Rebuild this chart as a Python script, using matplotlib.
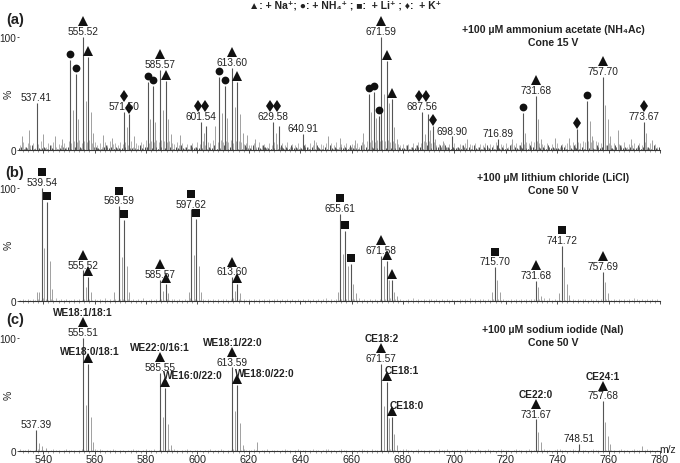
import numpy as np
import matplotlib
matplotlib.use("Agg")
import matplotlib.pyplot as plt
from matplotlib.transforms import offset_copy

plt.rcParams['font.family'] = ['Liberation Sans', 'DejaVu Sans']

# ---- panel (a): +100 uM ammonium acetate, cone 15 V ----
a_mz = [537.41, 550.6, 552.6, 555.52, 557.5, 571.50, 573.5, 580.6, 582.6, 585.57, 587.6,
        601.54, 603.5, 608.6, 610.6, 613.60, 615.6, 629.58, 631.6, 640.91,
        666.6, 668.6, 670.6, 671.59, 673.6, 675.6, 687.56, 689.6, 691.6, 698.90, 716.89,
        726.6, 731.68, 747.6, 751.6, 757.70, 773.67]
a_int = [42, 80, 67, 100, 82, 34, 32, 60, 57, 71, 61,
         25, 21, 65, 57, 73, 60, 25, 21, 14,
         50, 51, 30, 100, 79, 45, 34, 32, 21, 12, 10,
         33, 48, 19, 43, 65, 25]
a_mark = ['', 'c', 'c', 't', 't', 'd', 'd', 'c', 'c', 't', 't',
          'dd', '', 'c', 'c', 't', 't', 'dd', '', '',
          'c', 'c', 'c', 't', 't', 't', 'dd', '', 'd', '', '',
          'c', 't', 'd', 'c', 't', 'd']
a_lab = ['537.41', '', '', '555.52', '', '571.50', '', '', '', '585.57', '',
         '601.54', '', '', '', '613.60', '', '629.58', '', '640.91',
         '', '', '', '671.59', '', '', '687.56', '', '', '698.90', '716.89',
         '', '731.68', '', '', '757.70', '773.67']
a_iso_mz = [531.7, 534.5, 540.0, 544.6, 547.3, 551.6, 553.6, 556.5, 558.5, 559.5, 563.3,
            566.8, 572.5, 575.5, 581.6, 583.6, 586.6, 588.6, 589.6, 593.3, 602.5, 606.8,
            609.6, 611.6, 614.6, 616.6, 617.6, 619.3, 622.5, 630.6, 645.5, 650.7, 655.5,
            661.4, 664.6, 667.6, 669.6, 672.6, 674.6, 676.6, 677.6, 688.5, 690.5, 692.6,
            695.6, 705.0, 722.5, 727.6, 732.7, 733.7, 739.2, 744.4, 752.6, 753.5, 758.7,
            759.7, 760.7, 763.7, 768.9, 774.7, 777.0]
a_iso_int = [12, 18, 14, 12, 10, 35, 27, 43, 34, 15, 13,
             11, 20, 12, 27, 25, 35, 27, 14, 13, 15, 21,
             33, 28, 38, 32, 15, 13, 10, 15, 9, 12, 11,
             9, 15, 34, 28, 50, 42, 20, 10, 14, 18, 10,
             8, 10, 10, 15, 27, 10, 11, 11, 26, 12, 40,
             27, 12, 18, 10, 15, 9]
# low-level noise, one value (in %) per m/z unit from 531
a_grass = ("4736462585" "3647354638" "6879687967" "4637485647" "5748364759"
           "6879798786" "5746354637" "5847698797" "8796887564" "4637453647"
           "5364735463" "4536473546" "3647354635" "4637587979" "8989786545"
           "4536476878" "6745463546" "3546354635" "4635473546" "3546475768"
           "7865463546" "3546475768" "7879876546" "4635473546" "364736453")
a_fuzz = ("2313241322" "3142312423" "2431324214" "3213423132" "2413231423"
          "3324143243" "1324231423" "2341324132" "4231423143" "2413243213"
          "3142314231" "2431324213" "1423142314" "2314231423" "3142423132"
          "2413243214" "3243424313" "2314231423" "1342314231" "2413242314"
          "3142314232" "2431324213" "1423142314" "3243423132" "2413231423")

# ---- panel (b): +100 uM LiCl, cone 50 V ----
b_mz = [539.54, 541.5, 555.52, 557.5, 569.59, 571.5, 585.57, 587.6, 597.62, 599.6,
        613.60, 615.6, 655.61, 657.6, 659.6, 671.58, 673.6, 675.6, 715.70, 731.68,
        741.72, 757.69]
b_int = [100, 88, 27, 21, 84, 72, 19, 15, 81, 73,
         21, 15, 77, 62, 33, 40, 35, 19, 30, 18,
         49, 26]
b_mark = ['s', 's', 't', 't', 's', 's', 't', 't', 's', 's',
          't', 't', 's', 's', 's', 't', 't', 't', 's', 't',
          's', 't']
b_lab = ['539.54', '', '555.52', '', '569.59', '', '585.57', '', '597.62', '',
         '613.60', '', '655.61', '', '', '671.58', '', '', '715.70', '731.68',
         '741.72', '757.69']
b_iso_mz = [537.5, 538.5, 540.5, 542.5, 543.5, 556.5, 558.5, 567.5, 570.5, 572.5, 573.5,
            586.6, 588.6, 596.6, 598.6, 600.6, 601.6, 614.6, 616.6, 654.6, 656.6, 658.6,
            660.6, 661.6, 672.6, 674.6, 676.6, 677.6, 714.7, 716.7, 717.7, 732.7, 733.7,
            740.7, 742.7, 743.7, 744.7, 758.7, 759.7]
b_iso_int = [8, 8, 47, 35, 11, 12, 8, 8, 39, 31, 8,
             9, 7, 8, 41, 31, 8, 9, 7, 8, 42, 31,
             15, 7, 31, 19, 8, 4, 8, 19, 8, 12, 4,
             7, 30, 15, 5, 17, 7]
b_grass = ("1212121213" "2121312121" "1212121212" "1213121212" "2121212131"
           "1212121212" "2121213121" "1212121212" "2123121212" "1212121212"
           "2121212121" "2121212123" "1212121212" "2131212121" "2121312121"
           "1213121212" "2121212121" "1212131212" "2121212121" "1212121212"
           "2121313121" "1212121212" "2121212121" "1212121213" "212121212")

# ---- panel (c): +100 uM NaI, cone 50 V ----
c_mz = [537.39, 555.51, 557.5, 585.55, 587.5, 613.59, 615.6, 671.57, 673.6, 675.6,
        731.67, 748.51, 757.68]
c_int = [19, 100, 77, 69, 56, 74, 58, 77, 61, 30, 28, 6, 44]
c_mark = ['', 't', 't', 't', 't', 't', 't', 't', 't', 't', 't', '', 't']
c_lab = ['537.39', '555.51', '', '585.55', '', '613.59', '', '671.57', '', '',
         '731.67', '748.51', '757.68']
c_name = ['', 'WE18:1/18:1', 'WE18:0/18:1', 'WE22:0/16:1', 'WE16:0/22:0',
          'WE18:1/22:0', 'WE18:0/22:0', 'CE18:2', 'CE18:1', 'CE18:0',
          'CE22:0', '', 'CE24:1']
c_iso_mz = [530.3, 538.4, 539.4, 541.0, 556.5, 558.5, 559.5, 586.6, 588.6, 589.6,
            614.6, 616.6, 617.6, 623.2, 672.6, 674.6, 676.6, 677.6, 732.7, 733.7,
            758.7, 759.7, 760.7, 773.0]
c_iso_int = [5, 7, 4, 3, 41, 30, 8, 30, 24, 5,
             35, 25, 5, 8, 40, 29, 15, 5, 17, 8,
             26, 13, 6, 4]
c_grass = ("2112101211" "1012110121" "1101211012" "1210112101" "1011211012"
           "1120110121" "2101121011" "1011201121" "0112101211" "1210112011"
           "1012110121" "1101211012" "2110121101" "1012110211" "1101211012"
           "2110121101" "1012112011" "1101211021" "0121101211" "1012110121"
           "1101211012" "2110121101" "1012110211" "1101211012" "110121101")

W, H = 680, 464
fig = plt.figure(figsize=(W / 100, H / 100), dpi=100)


def fx(x):
    return x / W


def fy(y):
    return 1 - y / H


TXT = '#222222'
MARKERS = {'t': ('^', 6.6), 'c': ('o', 5.6), 's': ('s', 5.2), 'd': ('d', 6.2)}


def draw(ax, mz, inten, marks, labs, iso_mz, iso_int, grass, fuzz=None, names=None):
    gx = np.arange(531, 531 + len(grass))
    ax.vlines(gx, 0, [int(v) for v in grass], color='#a8a8a8', lw=0.6)
    if fuzz is not None:
        fxs = np.arange(530.5, 530.5 + len(fuzz))
        ax.vlines(fxs, 0, [int(v) for v in fuzz], color='#333333', lw=0.6)
        ax.vlines(fxs + 0.25, 0, [int(v) * 0.6 for v in fuzz], color='#444444', lw=0.5)
    ax.vlines(iso_mz, 0, iso_int, color='#a0a0a0', lw=0.7)
    ax.vlines(mz, 0, inten, color='#555555', lw=0.8)
    for i in range(len(mz)):
        m, h, mk, lb = mz[i], inten[i], marks[i], labs[i]
        if lb:
            ax.annotate(lb, (m, h), xytext=(0, 4.2), textcoords='offset points',
                        ha='center', va='center', fontsize=7.3, color=TXT)
        dy = 11.2 if lb else 4.3
        if mk == 'dd':
            for dx in (-2.7, 2.7):
                tr = offset_copy(ax.transData, fig=fig, x=dx, y=dy, units='points')
                ax.plot([m], [h], 'd', ms=6.2, color='#111111', transform=tr,
                        clip_on=False, mew=0)
        elif mk:
            sym, ms = MARKERS[mk]
            tr = offset_copy(ax.transData, fig=fig, x=0, y=dy, units='points')
            ax.plot([m], [h], sym, ms=ms, color='#111111', transform=tr,
                    clip_on=False, mew=0)
        if names and names[i]:
            if lb:
                ax.annotate(names[i], (m, h), xytext=(0, 18.5), textcoords='offset points',
                            ha='center', va='center', fontsize=7.3, fontweight='bold',
                            color=TXT)
            else:
                ha = 'center' if names[i] == 'WE18:0/18:1' else 'left'
                dx = 1.5 if ha == 'center' else -1.5
                ax.annotate(names[i], (m, h), xytext=(dx, 9.0), textcoords='offset points',
                            ha=ha, va='center', fontsize=7.3, fontweight='bold',
                            color=TXT)

    ax.set_xlim(530.4, 780)
    ax.set_ylim(0, 130)
    for s in ('top', 'right', 'left'):
        ax.spines[s].set_visible(False)
    ax.spines['bottom'].set_linewidth(0.8)
    ax.spines['bottom'].set_color('#333333')
    ax.set_yticks([0, 100])
    ax.set_yticklabels(['0', '100'], fontsize=7.2, color=TXT)
    ax.tick_params(axis='y', length=1.5, width=0.6, pad=0.3, color='#333333')
    ax.set_xticks(np.arange(540, 781, 20))
    ax.set_xticks(np.arange(532, 781, 2), minor=True)
    ax.tick_params(axis='x', which='major', length=2, width=0.6, color='#333333',
                   labelsize=7.8, labelcolor=TXT, pad=0.3)
    ax.tick_params(axis='x', which='minor', length=1.4, width=0.4, color='#555555')
    ax.patch.set_alpha(0)


left = fx(18.5)
width = fx(660) - left
hgt = 130 * 1.13 / H
base_px = [151, 302, 452]
axes = []
for b in base_px:
    axes.append(fig.add_axes([left, fy(b), width, hgt]))

draw(axes[0], a_mz, a_int, a_mark, a_lab, a_iso_mz, a_iso_int, a_grass, fuzz=a_fuzz)
draw(axes[1], b_mz, b_int, b_mark, b_lab, b_iso_mz, b_iso_int, b_grass)
draw(axes[2], c_mz, c_int, c_mark, c_lab, c_iso_mz, c_iso_int, c_grass, names=c_name)
axes[0].tick_params(axis='x', labelbottom=False)
axes[1].tick_params(axis='x', labelbottom=False)

# "%" axis labels
for b in base_px:
    fig.text(fx(9), fy(b - 57), '%', rotation=90, ha='center', va='center',
             fontsize=7.5, color=TXT)

# panel tags and conditions
for tag, y in zip(['(a)', '(b)', '(c)'], [20, 173, 320]):
    fig.text(fx(15), fy(y), tag, ha='center', va='center', fontsize=10.5,
             fontweight='bold', color=TXT)

cond = [('+100 µM ammonium acetate (NH₄Ac)', 'Cone 15 V', 30),
        ('+100 µM lithium chloride (LiCl)', 'Cone 50 V', 178),
        ('+100 µM sodium iodide (NaI)', 'Cone 50 V', 330)]
for l1, l2, y in cond:
    fig.text(fx(553), fy(y), l1, ha='center', va='center', fontsize=7.6,
             fontweight='bold', color=TXT)
    fig.text(fx(553), fy(y + 13.5), l2, ha='center', va='center', fontsize=7.6,
             fontweight='bold', color=TXT)

fig.text(fx(345), fy(6), '▲: + Na⁺; ●: + NH₄⁺ ; ■:  + Li⁺ ; ♦:  + K⁺',
         ha='center', va='center', fontsize=7.5, fontweight='bold', color=TXT)
fig.text(fx(668), fy(450), 'm/z', ha='center', va='center', fontsize=7.5, color=TXT)

fig.savefig('out.png', dpi=100)
